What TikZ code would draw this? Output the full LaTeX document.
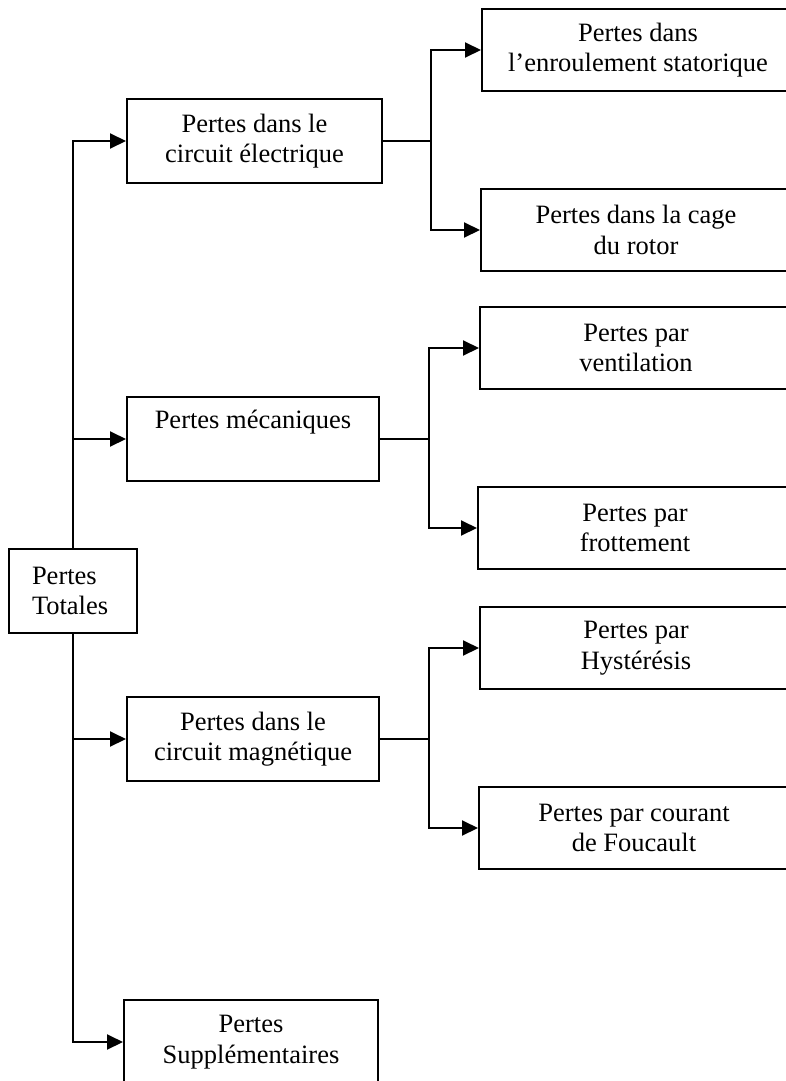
\documentclass[tikz,border=0pt]{standalone}
\usepackage{fontspec}
\setmainfont{Liberation Serif}
\usetikzlibrary{arrows.meta}
\tikzset{
  lossbox/.style={draw, line width=2pt, inner sep=0pt, align=center,
    minimum height=84pt, font=\fontsize{26.5}{30.5}\selectfont},
  subbox/.style={lossbox, minimum height=82pt},
  wire/.style={line width=2pt},
  feed/.style={wire, -{Triangle[length=16pt,width=15pt]}}
}
\begin{document}
\begin{tikzpicture}[x=1pt, y=-1pt]
\useasboundingbox (0,0) rectangle (786,1081);
\clip (0,0) rectangle (786,1081);

% root
\node[lossbox, minimum width=128pt, text width=82pt, inner xsep=23pt, align=left]
  (tot) at (73,591) {Pertes\\Totales};

% first level
\node[lossbox, minimum width=255pt] (elec) at (254.5,141) {Pertes dans le\\circuit électrique};
\node[lossbox, minimum width=252pt] (meca) at (253,439) {Pertes mécaniques\\\strut};
\node[lossbox, minimum width=252pt] (magn) at (253,739) {Pertes dans le\\circuit magnétique};
\node[lossbox, minimum width=254pt] (supp) at (251,1042) {Pertes\\Supplémentaires};

% second level
\node[subbox, minimum width=312pt] (stat) at (638,50) {Pertes dans\\l’enroulement statorique};
\node[subbox, minimum width=310pt] (cage) at (636,230) {Pertes dans la cage\\du rotor};
\node[subbox, minimum width=312pt] (vent) at (636,348) {Pertes par\\ventilation};
\node[subbox, minimum width=314pt] (frot) at (635,528) {Pertes par\\frottement};
\node[subbox, minimum width=312pt] (hyst) at (636,648) {Pertes par\\Hystérésis};
\node[subbox, minimum width=310pt] (fouc) at (634,828) {Pertes par courant\\de Foucault};

% branching points
\coordinate (jelec) at (431,141);
\coordinate (jmeca) at (429,439);
\coordinate (jmagn) at (429,739);

% trunk from the root
\draw[feed] (tot.north) |- (elec.west);
\draw[feed] (tot.north) |- (meca.west);
\draw[feed] (tot.south) |- (magn.west);
\draw[feed] (tot.south) |- (supp.west);

% electric circuit branch
\draw[wire] (elec.east) -- (jelec);
\draw[feed] (jelec) |- (stat.west);
\draw[feed] (jelec) |- (cage.west);

% mechanical branch
\draw[wire] (meca.east) -- (jmeca);
\draw[feed] (jmeca) |- (vent.west);
\draw[feed] (jmeca) |- (frot.west);

% magnetic circuit branch
\draw[wire] (magn.east) -- (jmagn);
\draw[feed] (jmagn) |- (hyst.west);
\draw[feed] (jmagn) |- (fouc.west);
\end{tikzpicture}
\end{document}
